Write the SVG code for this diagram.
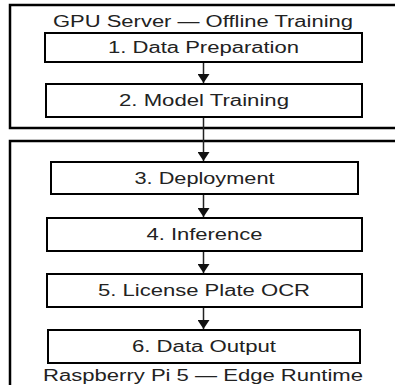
<svg xmlns="http://www.w3.org/2000/svg" width="395" height="385" viewBox="0 0 395 385">
  <style>
    .zone { fill: none; stroke: #000; stroke-width: 2.5; }
    .box { fill: #fff; stroke: #000; stroke-width: 2; }
    .lbl { font-family: "Liberation Sans", Arial, sans-serif; font-size: 16px; fill: #222; text-anchor: middle; }
    .link { stroke: #222; stroke-width: 1.5; fill: none; marker-end: url(#head); }
  </style>
  <defs>
    <marker id="head" markerWidth="9" markerHeight="12" refX="9" refY="6" orient="auto" markerUnits="userSpaceOnUse">
      <path d="M0,0 L9,6 L0,12 Z" fill="#111"/>
    </marker>
  </defs>
  <rect width="395" height="385" fill="#fff"/>

  <!-- zones (open to the right edge) -->
  <g id="zone-gpu">
    <rect class="zone" x="10" y="5" width="400" height="123"/>
    <text class="lbl" x="203" y="27" textLength="300" lengthAdjust="spacingAndGlyphs">GPU Server — Offline Training</text>
  </g>
  <g id="zone-edge">
    <rect class="zone" x="10" y="141" width="400" height="260"/>
    <text class="lbl" x="203" y="381" textLength="320" lengthAdjust="spacingAndGlyphs">Raspberry Pi 5 — Edge Runtime</text>
  </g>

  <!-- connectors -->
  <g id="connectors">
    <line class="link" x1="203.5" y1="62" x2="203.5" y2="83"/>
    <line class="link" x1="203.5" y1="117" x2="203.5" y2="161"/>
    <line class="link" x1="203.5" y1="194" x2="203.5" y2="217"/>
    <line class="link" x1="203.5" y1="251" x2="203.5" y2="273"/>
    <line class="link" x1="203.5" y1="307" x2="203.5" y2="329"/>
  </g>

  <g id="step1">
    <rect class="box" x="45" y="33" width="317" height="29"/>
    <text class="lbl" x="203.5" y="53" textLength="191" lengthAdjust="spacingAndGlyphs">1. Data Preparation</text>
  </g>
  <g id="step2">
    <rect class="box" x="46" y="84" width="316" height="33"/>
    <text class="lbl" x="204" y="106" textLength="170" lengthAdjust="spacingAndGlyphs">2. Model Training</text>
  </g>
  <g id="step3">
    <rect class="box" x="51" y="162" width="307" height="32"/>
    <text class="lbl" x="204.5" y="184" textLength="140" lengthAdjust="spacingAndGlyphs">3. Deployment</text>
  </g>
  <g id="step4">
    <rect class="box" x="47" y="218" width="315" height="33"/>
    <text class="lbl" x="204.5" y="240" textLength="116" lengthAdjust="spacingAndGlyphs">4. Inference</text>
  </g>
  <g id="step5">
    <rect class="box" x="47" y="274" width="315" height="33"/>
    <text class="lbl" x="204" y="296" textLength="212" lengthAdjust="spacingAndGlyphs">5. License Plate OCR</text>
  </g>
  <g id="step6">
    <rect class="box" x="48" y="330" width="312" height="33"/>
    <text class="lbl" x="204" y="352" textLength="144" lengthAdjust="spacingAndGlyphs">6. Data Output</text>
  </g>
</svg>
